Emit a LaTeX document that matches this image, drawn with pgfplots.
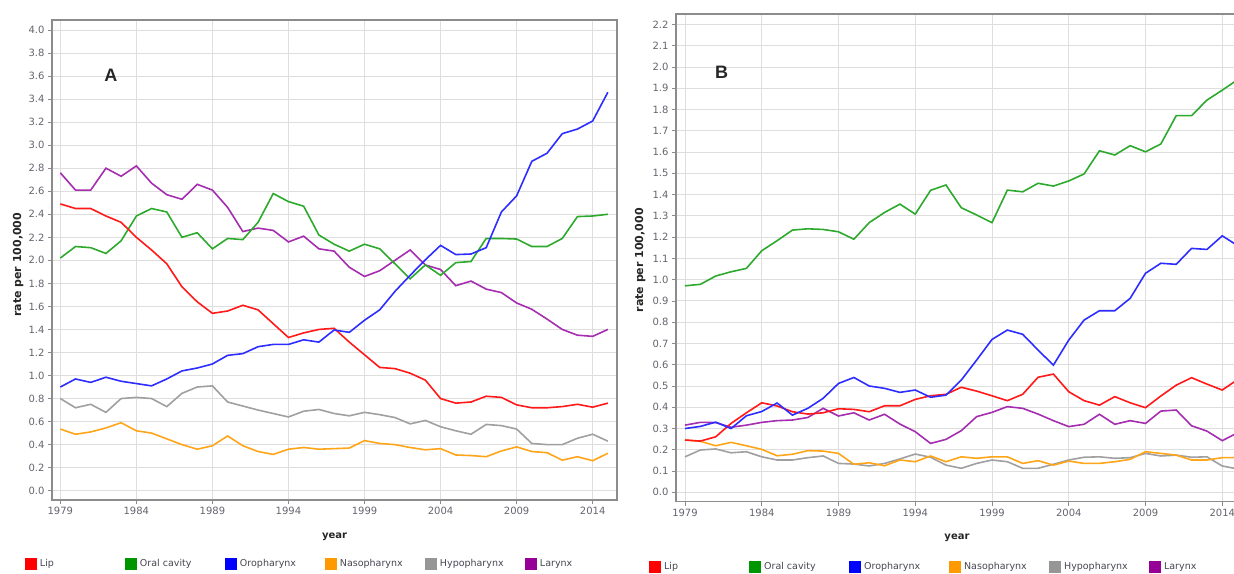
\documentclass[border=0pt]{standalone}
\usepackage{fontspec}
\setmainfont{DejaVu Sans}
\newfontfamily\letterfont{Liberation Sans}
\usepackage{pgfplots}
\usepackage{pgfplotstable}
\pgfplotsset{compat=1.18}

\definecolor{cLip}{RGB}{255,25,25}
\definecolor{cOral}{RGB}{45,170,45}
\definecolor{cOro}{RGB}{45,45,255}
\definecolor{cNaso}{RGB}{255,165,25}
\definecolor{cHypo}{RGB}{160,160,160}
\definecolor{cLar}{RGB}{165,45,175}
\definecolor{lLip}{RGB}{255,0,0}
\definecolor{lOral}{RGB}{0,150,0}
\definecolor{lOro}{RGB}{0,0,255}
\definecolor{lNaso}{RGB}{255,153,0}
\definecolor{lHypo}{RGB}{150,150,150}
\definecolor{lLar}{RGB}{150,0,150}
\definecolor{axisgray}{RGB}{140,140,140}
\definecolor{gridgray}{RGB}{222,222,222}
\definecolor{tickgray}{RGB}{100,100,110}
\definecolor{legtext}{RGB}{70,70,80}

% Panel A
\pgfplotstableread{
year lip oral oro naso hypo lar
1979 2.49 2.02 0.90 0.535 0.80 2.76
1980 2.45 2.12 0.97 0.49 0.72 2.61
1981 2.45 2.11 0.94 0.51 0.75 2.61
1982 2.385 2.06 0.985 0.545 0.68 2.80
1983 2.33 2.17 0.95 0.59 0.80 2.73
1984 2.20 2.385 0.93 0.52 0.81 2.82
1985 2.09 2.45 0.91 0.50 0.80 2.67
1986 1.97 2.42 0.97 0.45 0.73 2.57
1987 1.77 2.20 1.04 0.40 0.845 2.53
1988 1.64 2.24 1.065 0.36 0.90 2.66
1989 1.54 2.10 1.10 0.39 0.91 2.61
1990 1.56 2.19 1.175 0.475 0.77 2.46
1991 1.61 2.18 1.19 0.39 0.735 2.25
1992 1.57 2.33 1.25 0.34 0.70 2.28
1993 1.45 2.58 1.27 0.315 0.67 2.26
1994 1.33 2.51 1.27 0.36 0.64 2.16
1995 1.37 2.47 1.31 0.375 0.69 2.21
1996 1.40 2.22 1.29 0.36 0.705 2.10
1997 1.41 2.14 1.395 0.365 0.67 2.08
1998 1.29 2.08 1.375 0.37 0.65 1.94
1999 1.18 2.14 1.48 0.435 0.68 1.86
2000 1.07 2.10 1.57 0.41 0.66 1.91
2001 1.06 1.97 1.73 0.40 0.635 2.00
2002 1.02 1.84 1.87 0.375 0.58 2.09
2003 0.96 1.96 2.005 0.355 0.61 1.96
2004 0.80 1.87 2.13 0.365 0.555 1.92
2005 0.76 1.98 2.05 0.31 0.52 1.78
2006 0.77 1.99 2.055 0.305 0.49 1.82
2007 0.82 2.19 2.11 0.295 0.575 1.75
2008 0.81 2.19 2.42 0.345 0.565 1.72
2009 0.745 2.185 2.56 0.38 0.535 1.63
2010 0.72 2.12 2.86 0.34 0.41 1.575
2011 0.72 2.12 2.93 0.33 0.40 1.49
2012 0.73 2.19 3.10 0.265 0.40 1.40
2013 0.75 2.38 3.14 0.295 0.455 1.35
2014 0.725 2.385 3.21 0.26 0.49 1.34
2015 0.76 2.40 3.46 0.325 0.43 1.40
}\dataA

% Panel B
\pgfplotstableread{
year lip oral oro naso hypo lar
1979 0.246 0.971 0.30 0.246 0.167 0.316
1980 0.241 0.978 0.31 0.24 0.199 0.329
1981 0.261 1.017 0.33 0.219 0.204 0.328
1982 0.324 1.037 0.30 0.235 0.186 0.306
1983 0.374 1.053 0.36 0.219 0.191 0.316
1984 0.421 1.136 0.38 0.202 0.167 0.329
1985 0.406 1.183 0.42 0.172 0.152 0.337
1986 0.379 1.233 0.363 0.179 0.152 0.34
1987 0.368 1.239 0.395 0.196 0.163 0.352
1988 0.374 1.236 0.442 0.194 0.171 0.395
1989 0.393 1.225 0.512 0.183 0.136 0.359
1990 0.39 1.19 0.54 0.132 0.133 0.374
1991 0.379 1.268 0.50 0.139 0.124 0.34
1992 0.407 1.316 0.489 0.125 0.136 0.367
1993 0.407 1.355 0.47 0.152 0.157 0.321
1994 0.437 1.308 0.481 0.144 0.18 0.285
1995 0.454 1.42 0.447 0.171 0.165 0.23
1996 0.461 1.445 0.457 0.144 0.128 0.249
1997 0.494 1.338 0.528 0.167 0.113 0.29
1998 0.476 1.304 0.622 0.16 0.136 0.356
1999 0.454 1.268 0.719 0.167 0.152 0.376
2000 0.431 1.421 0.763 0.167 0.144 0.403
2001 0.461 1.413 0.743 0.136 0.113 0.395
2002 0.541 1.453 0.669 0.149 0.113 0.368
2003 0.556 1.44 0.598 0.128 0.132 0.337
2004 0.473 1.464 0.716 0.147 0.152 0.309
2005 0.431 1.497 0.81 0.136 0.165 0.32
2006 0.41 1.606 0.854 0.136 0.167 0.367
2007 0.45 1.586 0.854 0.144 0.16 0.32
2008 0.421 1.63 0.912 0.155 0.163 0.337
2009 0.398 1.601 1.03 0.191 0.183 0.324
2010 0.453 1.638 1.077 0.183 0.171 0.382
2011 0.504 1.771 1.072 0.175 0.175 0.387
2012 0.539 1.771 1.147 0.152 0.165 0.313
2013 0.509 1.844 1.142 0.152 0.167 0.288
2014 0.481 1.891 1.206 0.163 0.124 0.243
2015 0.53 1.94 1.16 0.163 0.11 0.28
}\dataB

\pgfplotsset{
  panel/.style={
    scale only axis,
    anchor=south west,
    axis line style={draw=axisgray, line width=1.5pt},
    grid=major,
    major grid style={draw=gridgray, line width=0.9pt},
    tick align=outside,
    tick pos=left,
    major tick length=4pt,
    major tick style={draw=axisgray, line width=0.8pt},
    xtick={1979,1984,1989,1994,1999,2004,2009,2014},
    /pgf/number format/assume math mode=true,
    xticklabel style={font=\fontsize{10}{12}\selectfont, text=tickgray, /pgf/number format/1000 sep={}},
    yticklabel style={font=\fontsize{10}{12}\selectfont, text=tickgray, /pgf/number format/.cd, fixed, fixed zerofill, precision=1},
    xlabel={year},
    ylabel={rate per 100,000},
    xlabel style={font=\bfseries\fontsize{10}{12}\selectfont, text=black!85, anchor=center},
    ylabel style={font=\bfseries\fontsize{11}{13}\selectfont, text=black!85, anchor=center},
    every axis plot/.append style={line width=1.6pt, no marks, forget plot},
    legend image code/.code={\fill[#1,draw=none] (0pt,-6pt) rectangle (12pt,6pt);},
    legend style={draw=none, fill=none, inner sep=0pt, outer sep=0pt, anchor=west,
      font=\fontsize{9.5}{11}\selectfont\color{legtext},
      /tikz/every odd column/.style={column sep=3pt},
      nodes={inner sep=0pt}},
    legend columns=6,
    legend cell align=left,
  }
}

\begin{document}
\begin{tikzpicture}
\path[use as bounding box] (0pt,0pt) rectangle (1234pt,573pt);
\begin{axis}[panel,
  at={(52pt,73pt)}, width=565pt, height=480pt,
  xmin=1978.454, xmax=2015.6, ymin=-0.081, ymax=4.087,
  ytick distance=0.2,
  xlabel style={at={(axis description cs:0.500,-0.077)}},
  ylabel style={at={(axis description cs:-0.060,0.49)}},
  legend style={at={(axis description cs:-0.0478,-0.1333)}},
]
\addlegendimage{fill=lLip}\addlegendentry{\makebox[85pt][l]{Lip}}
\addlegendimage{fill=lOral}\addlegendentry{\makebox[85pt][l]{Oral cavity}}
\addlegendimage{fill=lOro}\addlegendentry{\makebox[85pt][l]{Oropharynx}}
\addlegendimage{fill=lNaso}\addlegendentry{\makebox[85pt][l]{Nasopharynx}}
\addlegendimage{fill=lHypo}\addlegendentry{\makebox[85pt][l]{Hypopharynx}}
\addlegendimage{fill=lLar}\addlegendentry{\makebox[85pt][l]{Larynx}}
\addplot[cHypo] table[x=year,y=hypo] {\dataA};
\addplot[cNaso] table[x=year,y=naso] {\dataA};
\addplot[cLar] table[x=year,y=lar] {\dataA};
\addplot[cOral] table[x=year,y=oral] {\dataA};
\addplot[cLip] table[x=year,y=lip] {\dataA};
\addplot[cOro] table[x=year,y=oro] {\dataA};
\node[font=\letterfont\bfseries\fontsize{18}{20}\selectfont, text=black!85] at (axis description cs:0.1044,0.885) {A};
\end{axis}
\begin{axis}[panel,
  at={(676pt,71.3pt)}, width=576.95pt, height=487.7pt,
  xmin=1978.414, xmax=2016, ymin=-0.044, ymax=2.249,
  ytick distance=0.1,
  xlabel style={at={(axis description cs:0.487,-0.0744)}},
  ylabel style={at={(axis description cs:-0.062,0.495)}},
  legend style={at={(axis description cs:-0.0466,-0.1339)}},
]
\addlegendimage{fill=lLip}\addlegendentry{\makebox[85pt][l]{Lip}}
\addlegendimage{fill=lOral}\addlegendentry{\makebox[85pt][l]{Oral cavity}}
\addlegendimage{fill=lOro}\addlegendentry{\makebox[85pt][l]{Oropharynx}}
\addlegendimage{fill=lNaso}\addlegendentry{\makebox[85pt][l]{Nasopharynx}}
\addlegendimage{fill=lHypo}\addlegendentry{\makebox[85pt][l]{Hypopharynx}}
\addlegendimage{fill=lLar}\addlegendentry{\makebox[85pt][l]{Larynx}}
\addplot[cHypo] table[x=year,y=hypo] {\dataB};
\addplot[cNaso] table[x=year,y=naso] {\dataB};
\addplot[cLar] table[x=year,y=lar] {\dataB};
\addplot[cLip] table[x=year,y=lip] {\dataB};
\addplot[cOro] table[x=year,y=oro] {\dataB};
\addplot[cOral] table[x=year,y=oral] {\dataB};
\node[font=\letterfont\bfseries\fontsize{18}{20}\selectfont, text=black!85] at (axis description cs:0.0789,0.881) {B};
\end{axis}
\end{tikzpicture}
\end{document}
